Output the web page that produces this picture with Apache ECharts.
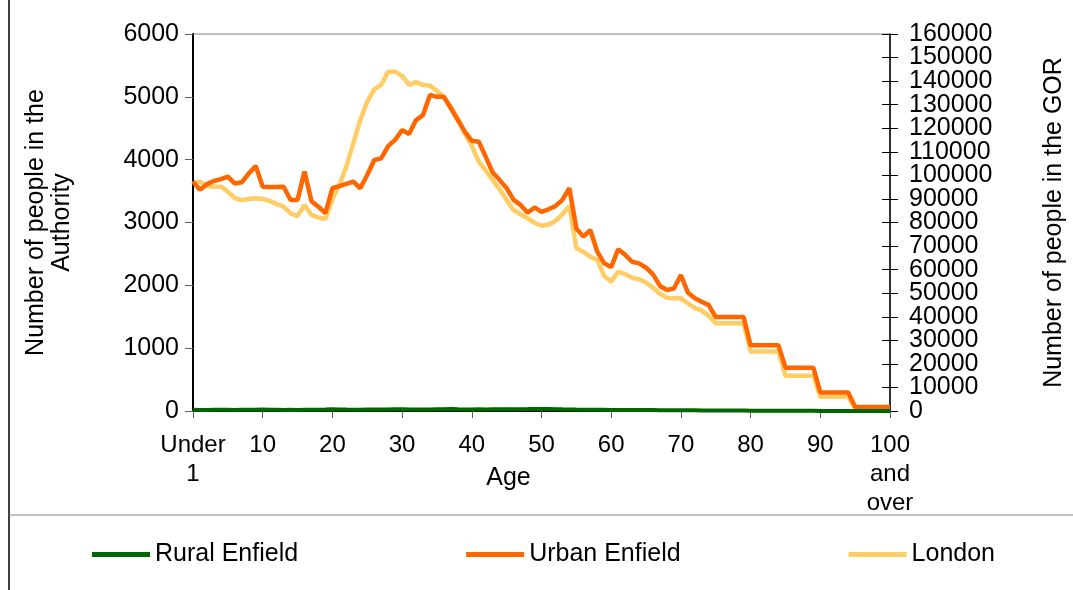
<!DOCTYPE html>
<html>
<head>
<meta charset="utf-8">
<script src="https://cdn.jsdelivr.net/npm/echarts@6/dist/echarts.min.js"></script>
<style>
  html, body { margin: 0; padding: 0; background: #fff; }
  #chart { width: 1073px; height: 590px; }
</style>
</head>
<body>
<div id="chart"></div>
<script>
// age categories: Under 1, 1..99, 100 and over
var ages = ["Under 1"];
for (var a = 1; a < 100; a++) ages.push(String(a));
ages.push("100 and over");

// Urban Enfield (left axis)
var urbanEnfield = [
  3650, 3520, 3610, 3660, 3690, 3730, 3620, 3640, 3780, 3900,
  3570, 3565, 3565, 3570, 3360, 3360, 3810, 3340, 3250, 3150,
  3545, 3580, 3615, 3650, 3545, 3755, 3995, 4020, 4215, 4315,
  4470, 4410, 4630, 4710, 5030, 5000, 5000, 4815, 4630, 4445,
  4300, 4285, 4045, 3795, 3675, 3545, 3360, 3280, 3155, 3240,
  3170, 3210, 3260, 3360, 3545, 2905, 2775, 2880, 2535, 2350,
  2290, 2575, 2485, 2375, 2350, 2280, 2175, 1990, 1925, 1950,
  2165, 1885, 1795, 1740, 1685, 1495, 1495, 1495, 1495, 1495,
  1045, 1045, 1045, 1045, 1045, 690, 690, 690, 690, 690,
  295, 295, 295, 295, 295, 65, 65, 65, 65, 65,
  65
];

// London (right axis)
var london = [
  96600, 97300, 95500, 95200, 95200, 93100, 90300, 89500, 90000, 90300,
  90000, 89100, 87800, 86700, 83900, 82700, 87400, 83200, 82100, 81500,
  90000, 95900, 103700, 113600, 123500, 131300, 136500, 138400, 144000, 144000,
  142200, 138400, 139600, 138400, 138100, 135900, 133100, 129100, 124200, 117900,
  112500, 105800, 102000, 98000, 94100, 89500, 85300, 83500, 81800, 79900,
  78600, 79100, 80600, 83500, 87000, 69100, 67600, 65500, 64100, 57300,
  54900, 59100, 58100, 56600, 55900, 54500, 52300, 49700, 48100, 47800,
  47800, 45700, 43800, 42600, 40300, 37200, 37200, 37200, 37200, 37200,
  25200, 25200, 25200, 25200, 25200, 15000, 15000, 15000, 15000, 15000,
  6000, 6000, 6000, 6000, 6000, 1200, 1200, 1200, 1200, 1200,
  1200
];

// Rural Enfield (left axis, very small)
var ruralEnfield = [
  18, 16, 17, 18, 19, 18, 17, 19, 20, 18,
  22, 19, 18, 17, 18, 17, 19, 18, 20, 22,
  26, 24, 22, 21, 20, 22, 24, 23, 25, 28,
  26, 24, 22, 23, 24, 26, 28, 30, 27, 25,
  24, 26, 25, 27, 28, 26, 27, 29, 30, 32,
  31, 30, 28, 26, 25, 22, 20, 19, 18, 18,
  17, 16, 16, 15, 15, 14, 14, 13, 12, 12,
  11, 10, 10, 9, 9, 8, 8, 7, 7, 6,
  5, 5, 5, 5, 5, 3, 3, 3, 3, 3,
  1, 1, 1, 1, 1, 0, 0, 0, 0, 0,
  0
];

var leftTicks = { min: 0, max: 6000, interval: 1000 };
var rightTicks = { min: 0, max: 160000, interval: 10000 };

var FONT = "'Liberation Sans', Arial, sans-serif";
var chart = echarts.init(document.getElementById("chart"));

function plain(v) {
  return String(v);
}
// right axis labels are split over two stacked axes so none get hidden
function evenStep(v) {
  return (v / rightTicks.interval) % 2 === 0 ? String(v) : "";
}
function oddStep(v) {
  return (v / rightTicks.interval) % 2 === 1 ? String(v) : "";
}

var option = {
  backgroundColor: "#ffffff",
  animation: false,
  textStyle: { fontFamily: FONT, color: "#000" },
  grid: {
    left: 193,
    right: 183,
    top: 34,
    bottom: 179,
    outerBoundsMode: "none",
    containLabel: false,
    show: true,
    borderColor: "#808080",
    borderWidth: 1,
    backgroundColor: "transparent"
  },
  legend: {
    left: 92,
    top: 542,
    padding: 0,
    itemWidth: 58,
    itemHeight: 5,
    itemGap: 168,
    icon: "rect",
    textStyle: { fontSize: 25, fontFamily: FONT, color: "#000" },
    data: ["Rural Enfield", "Urban Enfield", "London"]
  },
  xAxis: {
    type: "category",
    data: ages,
    boundaryGap: false,
    name: "Age",
    nameLocation: "middle",
    nameGap: 55,
    nameMoveOverlap: false,
    nameTextStyle: { fontSize: 25, fontFamily: FONT, color: "#000", padding: [0, 66, 0, 0] },
    axisLine: { lineStyle: { color: "#000", width: 1 } },
    axisTick: { show: true, interval: 9, length: 7, lineStyle: { color: "#606060" } },
    axisLabel: {
      interval: 9,
      showMinLabel: true,
      showMaxLabel: true,
      margin: 20,
      fontSize: 24,
      lineHeight: 29,
      color: "#000",
      fontFamily: FONT,
      formatter: function (v) {
        if (v === "Under 1") return "Under\n1";
        if (v === "100 and over") return "100\nand\nover";
        return v;
      }
    },
    splitLine: { show: false }
  },
  yAxis: [
    {
      type: "value",
      position: "left",
      min: leftTicks.min,
      max: leftTicks.max,
      interval: leftTicks.interval,
      name: "Number of people in the\nAuthority",
      nameLocation: "middle",
      nameRotate: 90,
      nameGap: 118,
      nameMoveOverlap: false,
      nameTextStyle: { fontSize: 25, lineHeight: 26, fontFamily: FONT, color: "#000" },
      axisLine: { show: true, lineStyle: { color: "#000", width: 2 } },
      axisTick: { show: true, length: 8, lineStyle: { color: "#606060" } },
      axisLabel: {
        margin: 14, fontSize: 25, lineHeight: 20, color: "#000", fontFamily: FONT, formatter: plain,
        showMinLabel: true, showMaxLabel: true
      },
      splitLine: { show: false }
    },
    {
      type: "value",
      position: "right",
      min: rightTicks.min,
      max: rightTicks.max,
      interval: rightTicks.interval,
      name: "Number of people in the GOR",
      nameLocation: "middle",
      nameRotate: 90,
      nameGap: 152,
      nameMoveOverlap: false,
      nameTextStyle: { fontSize: 25, fontFamily: FONT, color: "#000" },
      axisLine: { show: true, lineStyle: { color: "#000", width: 1.5 } },
      axisTick: { show: true, length: 8, lineStyle: { color: "#000" } },
      axisLabel: {
        margin: 19, fontSize: 25, lineHeight: 20, color: "#000", fontFamily: FONT, formatter: evenStep,
        showMinLabel: true, showMaxLabel: true
      },
      splitLine: { show: false }
    },
    {
      // inner half of the crossing ticks on the right axis, plus odd labels
      type: "value",
      position: "right",
      min: rightTicks.min,
      max: rightTicks.max,
      interval: rightTicks.interval,
      axisLine: { show: false },
      axisTick: { show: true, inside: true, length: 8, lineStyle: { color: "#000" } },
      axisLabel: {
        margin: 19, fontSize: 25, lineHeight: 20, color: "#000", fontFamily: FONT, formatter: oddStep
      },
      splitLine: { show: false }
    }
  ],
  series: [
    {
      name: "Rural Enfield",
      type: "line",
      yAxisIndex: 0,
      data: ruralEnfield,
      symbol: "none",
      lineStyle: { color: "#006600", width: 4 },
      itemStyle: { color: "#006600" },
      z: 4
    },
    {
      name: "London",
      type: "line",
      yAxisIndex: 1,
      data: london,
      symbol: "none",
      lineStyle: { color: "#FFCC66", width: 4.5 },
      itemStyle: { color: "#FFCC66" },
      z: 2
    },
    {
      name: "Urban Enfield",
      type: "line",
      yAxisIndex: 0,
      data: urbanEnfield,
      symbol: "none",
      lineStyle: { color: "#FF6600", width: 4.5 },
      itemStyle: { color: "#FF6600" },
      z: 3
    }
  ],
  graphic: [
    {
      type: "line",
      shape: { x1: 9, y1: 0, x2: 9, y2: 590 },
      style: { stroke: "#000", lineWidth: 1.5 }
    },
    {
      type: "line",
      shape: { x1: 9, y1: 515, x2: 1073, y2: 515 },
      style: { stroke: "#808080", lineWidth: 1 }
    }
  ]
};

chart.setOption(option);
window.addEventListener("resize", function () {
  chart.resize();
});
</script>
</body>
</html>
